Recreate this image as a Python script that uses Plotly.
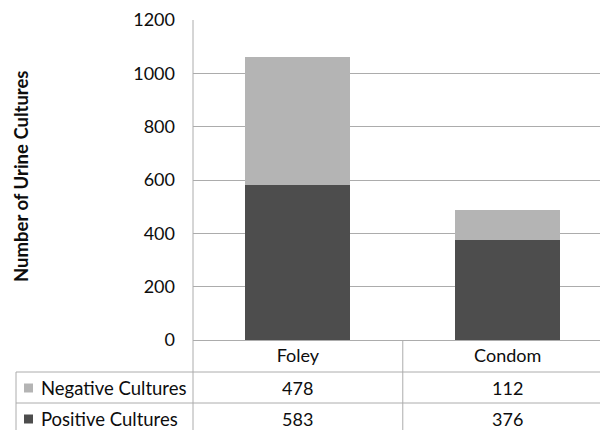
import plotly.graph_objects as go

# Urine culture counts by catheter type
categories = ["Foley", "Condom"]
negative_cultures = [478, 112]
positive_cultures = [583, 376]
series_names = ["Negative Cultures", "Positive Cultures"]
y_ticks = [0, 200, 400, 600, 800, 1000, 1200]

W, H = 600, 430
FONT = "Lato, Carlito, Calibri, sans-serif"
TEXT = "#0d0d0d"
LINE = "#acacac"
NEG_COLOR = "#b4b4b4"
POS_COLOR = "#4d4d4d"


def px_x(p):
    return p / W


def px_y(p):
    return (H - p) / H


# plot area in pixels
PLOT_LEFT, PLOT_TOP, PLOT_BOTTOM = 193, 20, 340
TABLE_LEFT = 16
ROW1_TOP, ROW2_TOP = 372, 403

fig = go.Figure()
# stacked: positive on the bottom, negative on top
fig.add_trace(go.Bar(x=categories, y=positive_cultures, name=series_names[1],
                     marker=dict(color=POS_COLOR, line=dict(width=0)), width=0.5))
fig.add_trace(go.Bar(x=categories, y=negative_cultures, name=series_names[0],
                     marker=dict(color=NEG_COLOR, line=dict(width=0)), width=0.5))

shapes = []
# left border of the plot running down through the table
shapes.append(dict(type="line", xref="paper", yref="paper",
                   x0=px_x(PLOT_LEFT), x1=px_x(PLOT_LEFT), y0=px_y(PLOT_TOP), y1=0,
                   line=dict(color=LINE, width=1)))
# separator between category columns
shapes.append(dict(type="line", xref="x", yref="paper",
                   x0=0.5, x1=0.5, y0=px_y(PLOT_BOTTOM), y1=0,
                   line=dict(color=LINE, width=1)))
# table row lines
for ytop in (ROW1_TOP, ROW2_TOP):
    shapes.append(dict(type="line", xref="paper", yref="paper",
                       x0=px_x(TABLE_LEFT), x1=1, y0=px_y(ytop), y1=px_y(ytop),
                       line=dict(color=LINE, width=1)))
# table left border
shapes.append(dict(type="line", xref="paper", yref="paper",
                   x0=px_x(TABLE_LEFT), x1=px_x(TABLE_LEFT), y0=px_y(ROW1_TOP), y1=0,
                   line=dict(color=LINE, width=1)))

annotations = []
rows = [(series_names[0], negative_cultures, NEG_COLOR, (ROW1_TOP + ROW2_TOP) / 2),
        (series_names[1], positive_cultures, POS_COLOR, ROW2_TOP + 15.5)]
for name, values, color, ymid in rows:
    # legend key swatch
    shapes.append(dict(type="rect", xref="paper", yref="paper",
                       x0=px_x(24), x1=px_x(33), y0=px_y(ymid + 5), y1=px_y(ymid - 4),
                       fillcolor=color, line=dict(width=0)))
    annotations.append(dict(xref="paper", yref="paper", x=px_x(39), y=px_y(ymid),
                            text=name, showarrow=False, xanchor="left", yanchor="middle",
                            font=dict(family=FONT, size=18.5, color=TEXT)))
    for cat, v in zip(categories, values):
        annotations.append(dict(xref="x", yref="paper", x=cat, y=px_y(ymid),
                                text=str(v), showarrow=False, xanchor="center",
                                yanchor="middle",
                                font=dict(family=FONT, size=18, color=TEXT)))

annotations.append(dict(xref="paper", yref="paper", x=px_x(21), y=px_y(176),
                        text="<b>Number of Urine Cultures</b>", showarrow=False,
                        textangle=-90, xanchor="center", yanchor="middle",
                        font=dict(family=FONT, size=18.5, color=TEXT)))

fig.update_layout(
    width=W, height=H,
    margin=dict(l=0, r=0, t=0, b=0, pad=0),
    paper_bgcolor="white", plot_bgcolor="white",
    barmode="stack", showlegend=False,
    shapes=shapes, annotations=annotations,
    xaxis=dict(domain=[px_x(PLOT_LEFT), 1], range=[-0.5, 1.44],
               showgrid=False, zeroline=False, showline=False, ticks="",
               automargin=False,
               tickfont=dict(family=FONT, size=18, color=TEXT),
               ticklabelstandoff=3),
    yaxis=dict(domain=[px_y(PLOT_BOTTOM), px_y(PLOT_TOP)], range=[0, 1200],
               tickvals=y_ticks, ticktext=[str(t) for t in y_ticks],
               showgrid=True, gridcolor=LINE, gridwidth=1,
               zeroline=True, zerolinecolor=LINE, zerolinewidth=1,
               showline=False, ticks="", automargin=False,
               tickfont=dict(family=FONT, size=18, color=TEXT),
               ticklabelstandoff=17),
)

fig.write_html("out.html")
